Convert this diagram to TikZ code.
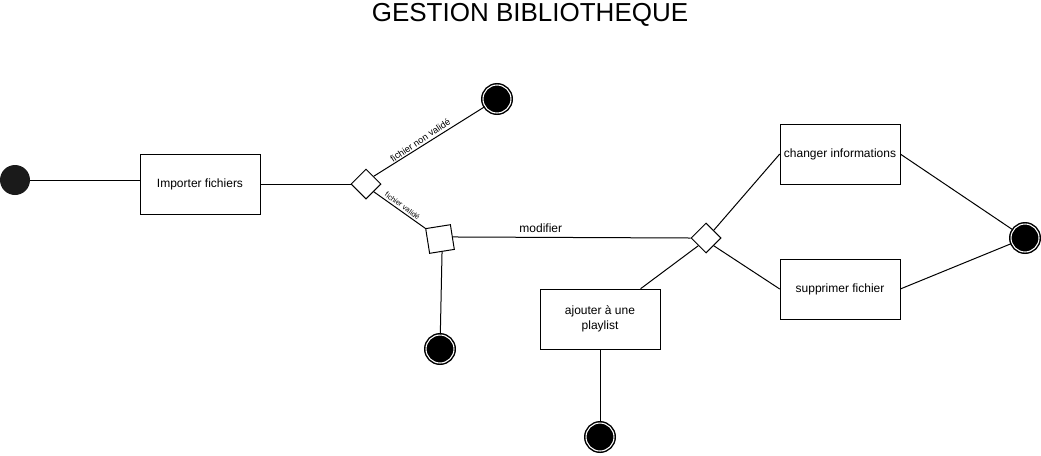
\documentclass[tikz,border=0pt]{standalone}
\usepackage{fontspec}
\setmainfont{Liberation Sans}
\usetikzlibrary{shapes.geometric}

\tikzset{
	activite/.style={draw, rectangle, minimum width=90pt, minimum height=45pt, inner sep=0.75pt, font=\fontsize{9}{11}\selectfont},
	debut/.style={circle, fill={rgb, 255:red, 26; green, 26; blue, 26}, minimum size=22.5pt, inner sep=0pt},
	fin/.style={circle, draw, fill=black, line width=1.1pt, double=white, double distance=0.8pt, minimum size=21pt, inner sep=0pt},
	choix/.style={diamond, draw, fill=white, minimum width=22.5pt, minimum height=22.5pt, aspect=1, inner sep=0pt, line width=0.75pt},
	fusion/.style={rectangle, draw, fill=white, minimum size=18.75pt, inner sep=0pt, rotate=9, line width=0.75pt},
	lien/.style={line width=0.75pt},
	garde/.style={font=\fontsize{7}{8}\selectfont, inner sep=1.5pt},
}

\begin{document}
\begin{tikzpicture}[x=0.75pt,y=0.75pt,yscale=-1,xscale=1]
	\useasboundingbox (0,0) rectangle (1041,455); %size of the diagram

	% Text Node
	\node (titre) at (530,15) [font=\fontsize{19.5}{23}\selectfont] {GESTION BIBLIOTHEQUE};
	% Text Node
	\node (depart) at (15,180) [debut] {};
	\node (importer) at (200,184) [activite] {Importer fichiers};
	\node (test) at (366,184) [choix] {};
	\node (finNonValide) at (497,99) [fin] {};
	\node (valide) at (440,239) [fusion] {};
	\node (finValide) at (440,349) [fin] {};
	\node (menu) at (706,238) [choix] {};
	\node (changer) at (840,154) [activite] {changer informations};
	\node (supprimer) at (840,289) [activite] {supprimer fichier};
	\node (ajouter) at (600,319) [activite, align=center] {ajouter à une\\playlist};
	\node (finModif) at (1025,238) [fin] {};
	\node (finPlaylist) at (600,437) [fin] {};

	% Connection
	\draw [lien] (depart.east) -- (importer.west |- depart.east);
	\draw [lien] (importer.east) -- (test.west);
	\draw [lien] (test.north east) -- (finNonValide)
		node [pos=0.45, anchor=south, rotate=34, garde] {fichier non validé};
	\draw [lien] (test.south east) -- (valide.north west)
		node [pos=0.5, anchor=south, rotate=-36, garde, font=\fontsize{5.5}{6}\selectfont] {fichier validé};
	\draw [lien] (valide.south) -- (finValide);
	\draw [lien] (valide.east) -- (menu.west)
		node [pos=0.37, above, font=\fontsize{9}{11}\selectfont] {modifier};
	\draw [lien] (menu.north east) -- (changer.west);
	\draw [lien] (menu.south east) -- (supprimer.west);
	\draw [lien] (menu.south west) -- (ajouter);
	\draw [lien] (changer.east) -- (finModif);
	\draw [lien] (supprimer.east) -- (finModif);
	\draw [lien] (ajouter.south) -- (finPlaylist);

\end{tikzpicture}
\end{document}
